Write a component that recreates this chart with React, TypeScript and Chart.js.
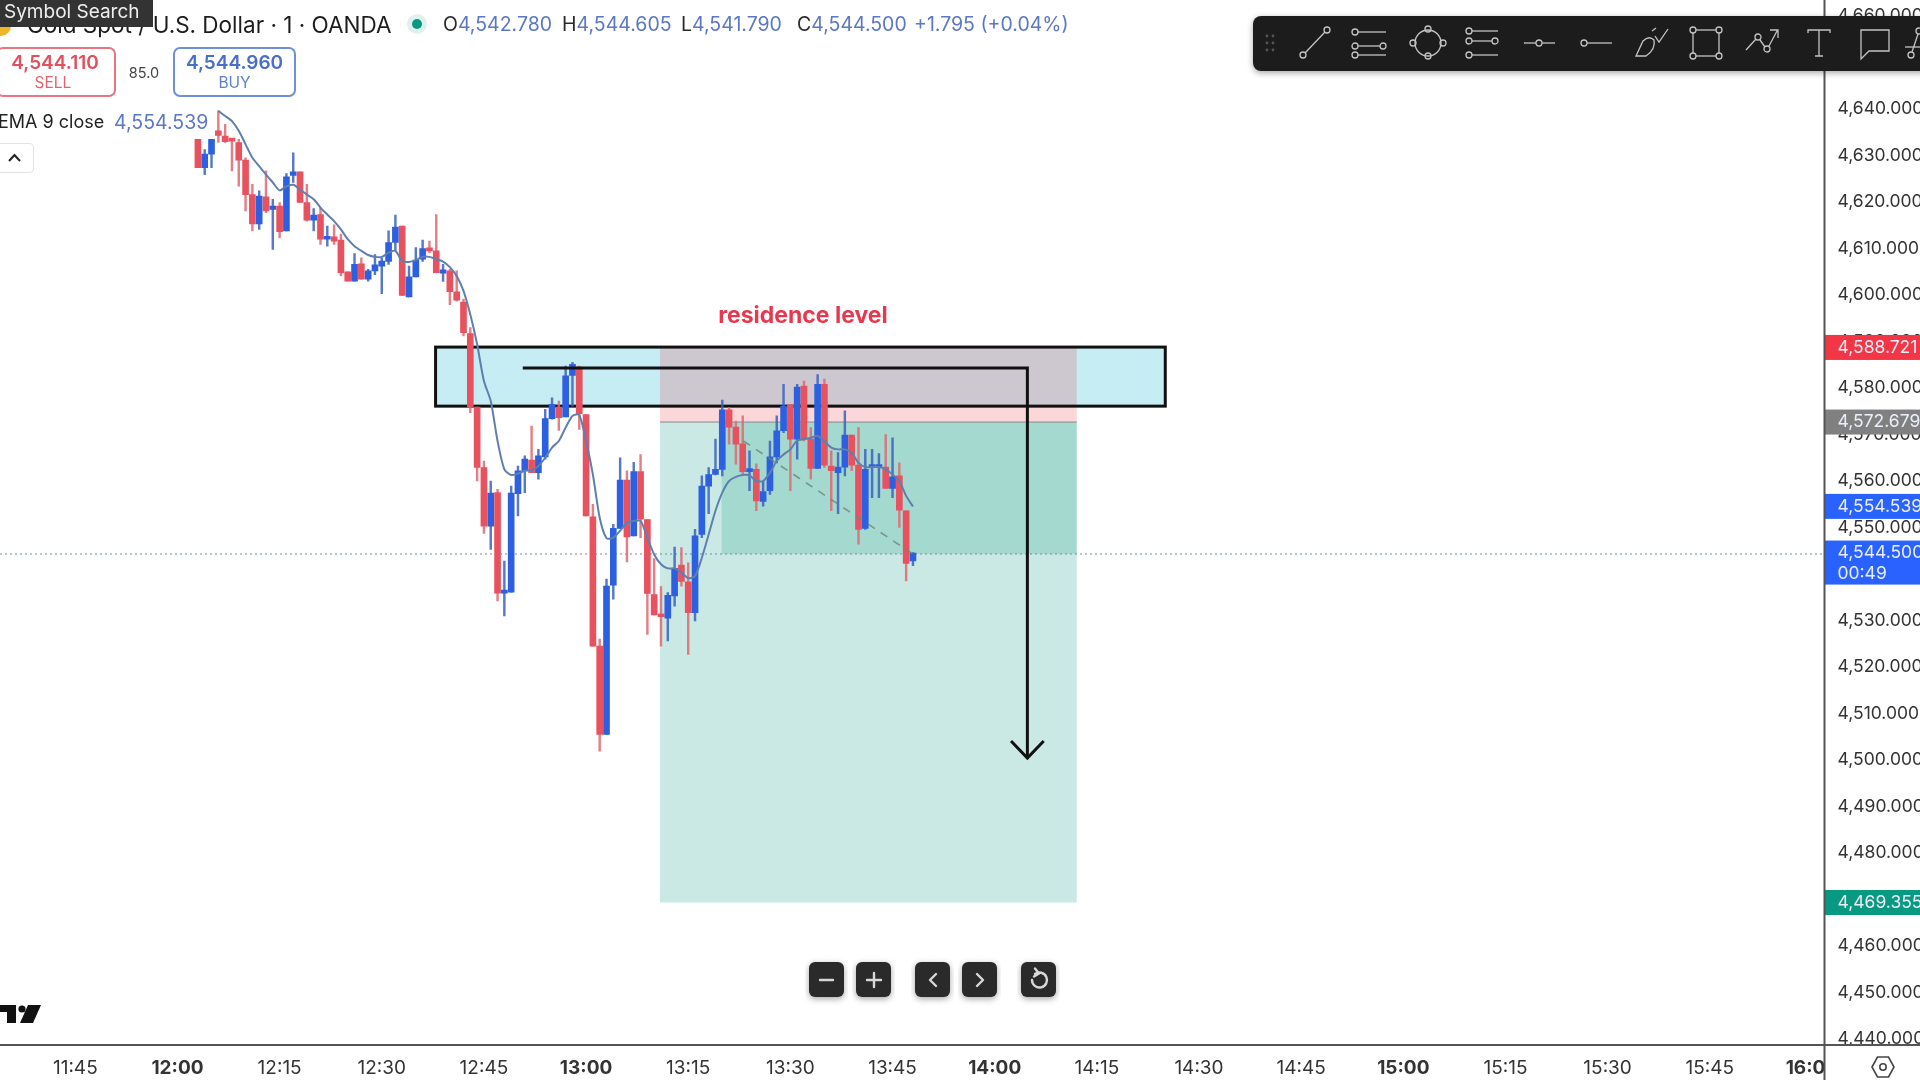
import React, { useEffect, useRef } from "react";
import { Chart, registerables } from "chart.js";

Chart.register(...registerables);

// minutes after 12:00 of the first candle
const firstCandleMinute = 3;
const opens = [4633.5,4627.4,4630.3,4635.3,4634.2,4633.3,4632.8,4629.0,4621.6,4615.3,4621.1,4618.4,4619.1,4613.8,4625.7,4626.5,4619.9,4616.1,4617.3,4612.0,4612.5,4611.8,4605.0,4603.0,4606.7,4603.4,4605.2,4606.2,4607.2,4611.3,4614.8,4599.6,4603.9,4607.7,4610.0,4609.5,4604.7,4605.2,4600.7,4598.5,4591.7,4575.9,4562.9,4550.3,4557.5,4535.9,4536.1,4557.3,4562.2,4564.5,4561.8,4565.2,4573.4,4575.9,4573.8,4582.7,4584.5,4574.3,4552.3,4524.5,4505.5,4537.6,4549.8,4560.2,4548.2,4562.0,4551.7,4535.6,4531.2,4530.5,4535.3,4541.9,4538.3,4531.7,4548.5,4558.9,4561.4,4562.5,4575.3,4571.6,4568.0,4562.0,4562.5,4555.6,4557.9,4565.2,4570.8,4576.4,4569.0,4580.4,4569.0,4562.7,4580.8,4563.2,4561.8,4563.0,4569.9,4563.4,4549.8,4562.9,4562.9,4563.0,4558.4,4561.1,4553.6,4542.8];
const highs = [4633.5,4631.3,4633.5,4639.6,4636.7,4633.3,4633.5,4629.5,4623.8,4622.4,4626.7,4620.6,4619.9,4626.1,4630.6,4626.5,4623.8,4618.6,4618.8,4614.8,4615.1,4613.1,4605.0,4608.9,4608.0,4605.5,4608.7,4608.0,4613.8,4617.2,4614.8,4606.2,4610.2,4611.8,4611.6,4617.3,4606.6,4605.5,4605.2,4599.1,4593.0,4575.9,4564.3,4560.0,4558.2,4542.8,4558.9,4563.2,4565.4,4571.8,4566.8,4575.4,4577.9,4577.2,4584.7,4585.5,4584.7,4574.3,4555.0,4526.0,4538.9,4550.7,4565.0,4562.2,4564.0,4565.7,4551.7,4543.3,4537.3,4536.0,4545.8,4545.7,4542.4,4549.6,4561.1,4562.9,4569.0,4577.4,4575.8,4572.9,4574.0,4566.5,4563.7,4560.0,4568.6,4574.0,4580.8,4576.5,4580.8,4581.5,4571.5,4582.9,4581.9,4566.5,4566.1,4575.1,4569.9,4571.5,4566.8,4566.8,4565.9,4570.0,4569.3,4563.9,4553.6,4544.6];
const lows = [4627.4,4625.9,4627.4,4632.8,4632.8,4626.7,4623.4,4618.1,4613.8,4614.1,4617.7,4609.8,4612.3,4613.8,4624.2,4619.9,4615.9,4613.8,4610.9,4610.5,4610.9,4604.1,4603.0,4603.0,4603.4,4603.0,4604.4,4600.3,4606.6,4609.5,4599.9,4599.6,4603.9,4607.2,4609.1,4604.8,4602.9,4597.9,4598.7,4591.2,4574.7,4560.0,4548.7,4545.3,4534.2,4531.0,4536.1,4552.5,4557.5,4561.8,4560.4,4564.7,4573.3,4570.9,4573.8,4576.1,4571.1,4552.5,4524.5,4501.9,4505.5,4534.6,4549.8,4542.6,4548.2,4547.8,4527.0,4531.2,4524.5,4525.6,4533.1,4537.4,4522.7,4529.9,4547.8,4553.0,4561.3,4561.1,4567.9,4563.6,4561.4,4557.9,4553.6,4554.6,4557.1,4563.9,4570.4,4557.9,4564.7,4568.6,4560.4,4562.7,4562.9,4553.6,4553.0,4561.1,4562.2,4546.4,4549.6,4556.4,4556.4,4558.4,4556.4,4550.0,4538.5,4541.8];
const closes = [4627.4,4630.3,4633.5,4634.3,4633.0,4633.1,4629.0,4621.6,4615.3,4621.3,4618.1,4619.1,4613.6,4625.4,4626.5,4619.9,4616.1,4617.2,4612.0,4612.6,4611.6,4604.8,4603.0,4606.6,4603.4,4605.2,4606.5,4607.3,4611.3,4614.6,4599.9,4603.9,4607.5,4610.0,4609.5,4604.8,4605.4,4600.7,4598.9,4591.9,4575.9,4562.9,4550.3,4557.4,4535.9,4536.2,4557.4,4562.2,4564.7,4561.8,4565.4,4573.4,4576.5,4573.6,4582.6,4585.1,4574.5,4552.5,4524.5,4505.5,4537.4,4549.8,4560.2,4548.0,4562.0,4551.8,4535.8,4531.2,4530.8,4535.4,4541.2,4538.4,4531.7,4548.2,4558.9,4561.4,4562.5,4575.3,4571.6,4567.9,4562.0,4562.3,4555.7,4557.7,4565.2,4570.8,4576.1,4569.0,4580.2,4569.0,4562.7,4580.8,4563.4,4562.2,4563.0,4569.9,4563.4,4549.6,4562.5,4563.0,4563.0,4558.4,4560.9,4553.7,4542.3,4544.5];

const emaStartMinute = 6;
const emaValues = [4639.6,4638.5,4637.4,4635.3,4632.4,4629.5,4627.7,4625.9,4624.2,4622.5,4623.4,4623.7,4622.7,4621.6,4620.6,4618.8,4617.3,4615.9,4614.1,4612.0,4610.5,4609.5,4608.6,4608.2,4608.2,4609.1,4609.5,4607.3,4607.1,4607.5,4608.2,4608.2,4607.7,4607.2,4606.0,4604.1,4600.9,4595.8,4589.4,4581.5,4577.2,4568.6,4562.5,4561.3,4561.6,4562.2,4562.3,4563.2,4565.0,4567.2,4568.6,4571.5,4574.0,4574.2,4568.6,4561.4,4552.1,4547.7,4547.8,4549.3,4551.0,4551.4,4551.4,4547.8,4544.2,4542.1,4541.2,4541.2,4540.3,4539.1,4539.6,4543.5,4548.5,4553.6,4557.5,4560.0,4560.9,4561.3,4561.2,4560.0,4560.0,4561.8,4564.3,4565.7,4566.8,4568.7,4569.0,4569.3,4569.7,4568.5,4567.2,4566.8,4566.8,4566.1,4563.9,4563.0,4563.0,4563.0,4562.5,4561.4,4560.0,4556.8,4554.5];

const xTickMinutes = [-15,0,15,30,45,60,75,90,105,120,135,150,165,180,195,210,225,240];
const xTickLabels = ["11:45","12:00","12:15","12:30","12:45","13:00","13:15","13:30","13:45","14:00","14:15","14:30","14:45","15:00","15:15","15:30","15:45","16:00"];
const xMin = -26.06;
const xMax = 241.85;
const yMin = 4438.705;
const yMax = 4663.445;

const stopPrice = 4588.721;
const entryPrice = 4572.679;
const targetPrice = 4469.355;
const emaPrice = 4554.539;
const lastPrice = 4544.5;
const dottedPrice = 4544.3;
const zoneStart = 70.85;
const zoneEnd = 132.05;
const innerStart = 79.9;
const boxStart = 37.9;
const boxEnd = 145.05;
const boxTop = 4588.8;
const boxBottom = 4576.1;

const trendMinutes = [83.1, 108];
const trendPrices = [4568.6, 4544.3];
const arrowMinutes = [50.7, 124.8, 124.8];
const arrowPrices = [4584.3, 4584.3, 4500.8];
const headMinutes = [122.4, 124.8, 127.2];
const headPrices = [4504.1, 4500.4, 4504.1];

const noteText = "residence level";
const noteMinute = 91.85;
const notePrice = 4595.5;

const RED = "#e8525f";
const BLUE = "#2c60e0";
const FONT = "Inter, 'Noto Sans', sans-serif";

const fmt = (v: number) =>
  v.toLocaleString("en-US", { minimumFractionDigits: 3, maximumFractionDigits: 3 });

const noPad = (s: any) => {
  s.paddingLeft = 0;
  s.paddingRight = 0;
  s.paddingTop = 0;
  s.paddingBottom = 0;
};

const overlays = {
  id: "overlays",
  beforeDatasetsDraw(chart: any) {
    const { ctx, scales } = chart;
    const X = scales.x, Y = scales.y;
    const rect = (x0: number, x1: number, p0: number, p1: number, c: string) => {
      ctx.fillStyle = c;
      ctx.fillRect(X.getPixelForValue(x0), Y.getPixelForValue(p0), X.getPixelForValue(x1) - X.getPixelForValue(x0), Y.getPixelForValue(p1) - Y.getPixelForValue(p0));
    };
    ctx.save();
    rect(boxStart, boxEnd, boxTop, boxBottom, "#c5edf3");
    rect(zoneStart, zoneEnd, stopPrice, entryPrice, "rgba(242,54,69,0.2)");
    rect(zoneStart, zoneEnd, entryPrice, targetPrice, "rgba(8,153,129,0.21)");
    rect(innerStart, zoneEnd, entryPrice, dottedPrice, "rgba(8,153,129,0.2)");
    ctx.strokeStyle = "#8a8a8a";
    ctx.lineWidth = 1;
    ctx.beginPath();
    ctx.moveTo(X.getPixelForValue(zoneStart), Y.getPixelForValue(entryPrice));
    ctx.lineTo(X.getPixelForValue(zoneEnd), Y.getPixelForValue(entryPrice));
    ctx.stroke();
    ctx.strokeStyle = "#111";
    ctx.lineWidth = 3;
    ctx.strokeRect(X.getPixelForValue(boxStart), Y.getPixelForValue(boxTop), X.getPixelForValue(boxEnd) - X.getPixelForValue(boxStart), Y.getPixelForValue(boxBottom) - Y.getPixelForValue(boxTop));
    ctx.restore();
  },
  afterDraw(chart: any) {
    const { ctx, scales, width, height, chartArea } = chart;
    const X = scales.x, Y = scales.y;
    const right = chartArea.right;
    ctx.save();
    // panel below the price scale hides the end of the last time label
    ctx.fillStyle = "#fff";
    ctx.fillRect(right, chartArea.bottom, width - right, height - chartArea.bottom);
    ctx.fillStyle = "#e6394f";
    ctx.font = `700 23px ${FONT}`;
    ctx.textAlign = "center";
    ctx.textBaseline = "middle";
    ctx.fillText(noteText, X.getPixelForValue(noteMinute), Y.getPixelForValue(notePrice));
    const badge = (p: number, c: string, h: number, lines: string[]) => {
      const y = Y.getPixelForValue(p);
      ctx.fillStyle = c;
      ctx.fillRect(right, y - 12.5, width - right, h);
      ctx.fillStyle = "#e9eef8";
      ctx.textAlign = "left";
      ctx.font = `400 17.5px ${FONT}`;
      lines.forEach((t, i) => ctx.fillText(t, right + 13, y + i * 21));
    };
    badge(stopPrice, "#f23645", 25, [fmt(stopPrice)]);
    badge(entryPrice, "#808080", 25, [fmt(entryPrice)]);
    badge(emaPrice, "#2962ff", 25, [fmt(emaPrice)]);
    badge(targetPrice, "#089981", 25, [fmt(targetPrice)]);
    badge(lastPrice, "#2962ff", 44, [fmt(lastPrice), "00:49"]);
    ctx.strokeStyle = "#555";
    ctx.lineWidth = 2;
    ctx.beginPath();
    ctx.moveTo(0, chartArea.bottom);
    ctx.lineTo(width, chartArea.bottom);
    ctx.moveTo(right, 0);
    ctx.lineTo(right, height);
    ctx.stroke();
    ctx.restore();
  },
};

const Icon = ({ cx, children }: any) => (
  <g transform={`translate(${cx} 43)`} fill="none" stroke="#c4c4c4" strokeWidth={1.3}>
    {children}
  </g>
);
const C = ({ x, y }: any) => <circle cx={x} cy={y} r={3} />;
const L = ({ a, b, c, d }: any) => <line x1={a} y1={b} x2={c} y2={d} />;

function Toolbar() {
  return (
    <svg width={1920} height={1080} style={{ position: "absolute", left: 0, top: 0, pointerEvents: "none" }}>
      <defs>
        <filter id="sh" x="-10%" y="-50%" width="120%" height="200%">
          <feDropShadow dx="0" dy="2" stdDeviation="3" floodOpacity="0.35" />
        </filter>
      </defs>
      <rect x={1253} y={16} width={720} height={55} rx={8} fill="#1e1e1e" filter="url(#sh)" />
      {[36, 43, 50].map((y) => (
        <g key={y} fill="#555">
          <circle cx={1267} cy={y} r={1.4} />
          <circle cx={1273} cy={y} r={1.4} />
        </g>
      ))}
      <Icon cx={1315}><C x={-12} y={12} /><C x={12} y={-13} /><L a={-10} b={10} c={10} d={-11} /></Icon>
      <Icon cx={1370}><C x={-15} y={-11} /><C x={-15} y={3} /><C x={-15} y={12} /><C x={13} y={3} /><L a={-12} b={-11} c={16} d={-11} /><L a={-12} b={3} c={10} d={3} /><L a={-12} b={12} c={16} d={12} /></Icon>
      <Icon cx={1428}><circle r={13} /><C x={0} y={-14} /><C x={0} y={13} /><C x={-15} y={0} /><C x={15} y={0} /></Icon>
      <Icon cx={1482}><C x={-13} y={-12} /><C x={13} y={-2} /><C x={-13} y={-2} /><C x={-13} y={12} /><L a={-10} b={-12} c={16} d={-12} /><L a={-10} b={-2} c={10} d={-2} /><L a={-10} b={12} c={16} d={12} /></Icon>
      <Icon cx={1539}><C x={0} y={0} /><L a={-15} b={0} c={-3} d={0} /><L a={3} b={0} c={16} d={0} /></Icon>
      <Icon cx={1596}><C x={-12} y={0} /><L a={-9} b={0} c={16} d={0} /></Icon>
      <Icon cx={1652}><path d="M-16 13 L-9 -2 Q-3 -8 2 -3 Q4 6 -6 13 Z" /><path d="M3 -7 L7 -1 L16 -14 M0 -12 L4 -15" /></Icon>
      <Icon cx={1706}><C x={-13} y={-13} /><C x={13} y={-13} /><C x={-13} y={13} /><C x={13} y={13} /><L a={-10} b={-13} c={10} d={-13} /><L a={-10} b={13} c={10} d={13} /><L a={-13} b={-10} c={-13} d={10} /><L a={13} b={-10} c={13} d={10} /></Icon>
      <Icon cx={1762}><C x={-4} y={-6} /><C x={5} y={6} /><path d="M-16 7 L-6 -4 M-2 -3 L3 4 M7 3 L15 -12 M8 -13 L16 -13 L16 -5" /></Icon>
      <Icon cx={1819}><path d="M-11 -10 V-13 H11 V-10 M0 -13 V13 M-4 13 H4" /></Icon>
      <Icon cx={1875}><path d="M-14 -13 H14 V8 H-6 L-14 16 Z" /></Icon>
      <Icon cx={1919}><C x={0} y={-12} /><C x={-8} y={12} /><L a={-1} b={-9} c={-7} d={9} /><L a={-14} b={4} c={8} d={4} /></Icon>
      {/* bottom buttons */}
      {[809, 856, 915, 962, 1021].map((x) => (
        <rect key={x} x={x} y={962} width={35} height={35} rx={6} fill="#2b2b2b" filter="url(#sh)" />
      ))}
      <g stroke="#d8d8d8" strokeWidth={2.4} fill="none" strokeLinecap="round" strokeLinejoin="round">
        <line x1={820} y1={980} x2={833} y2={980} />
        <path d="M867 980 H881 M874 973 V987" />
        <path d="M936 974 L930 980 L936 986" />
        <path d="M977 974 L983 980 L977 986" />
        <path d="M1035 974 A7.5 7.5 0 1 1 1032 980 M1035 968.5 L1039 973.5 L1034 976.5" />
      </g>
      {/* TradingView mark */}
      <g fill="#111">
        <path d="M0 1005 H16 V1023 H7 V1012 H0 Z" />
        <circle cx={22} cy={1009} r={3.6} />
        <path d="M28 1005 H41 L33 1023 H20 Z" />
      </g>
      {/* settings */}
      <g fill="none" stroke="#444" strokeWidth={1.6}>
        <path d="M1872 1067 L1877.5 1057 H1888.5 L1894 1067 L1888.5 1077 H1877.5 Z" />
        <circle cx={1883} cy={1067} r={3.2} />
      </g>
    </svg>
  );
}

const abs = (style: React.CSSProperties): React.CSSProperties => ({ position: "absolute", whiteSpace: "nowrap", fontFamily: FONT, ...style });

function Header() {
  const v = "#5b78c6";
  const k = "#2a2a2a";
  const ohlc = [["O", "4,542.780", 443], ["H", "4,544.605", 562], ["L", "4,541.790", 681], ["C", "4,544.500", 797]] as const;
  return (
    <>
      <div style={abs({ left: -9, top: 16, width: 20, height: 20, borderRadius: 10, background: "#f0b429" })} />
      <div style={abs({ left: 27, top: 11, fontSize: 22.5, lineHeight: "28px", color: "#1c1c1c" })}>Gold Spot / U.S. Dollar · 1 · OANDA</div>
      <div style={abs({ left: 0, top: 0, width: 153, height: 27, background: "#333", color: "#eee", fontSize: 19, lineHeight: "24px", paddingLeft: 4, boxSizing: "border-box" })}>Symbol Search</div>
      <div style={abs({ left: 407, top: 14, width: 20, height: 20, borderRadius: 10, background: "#dff1ee" })} />
      <div style={abs({ left: 412, top: 19, width: 10, height: 10, borderRadius: 5, background: "#089981" })} />
      {ohlc.map(([a, b, x]) => (
        <div key={a} style={abs({ left: x, top: 11, fontSize: 19.5, lineHeight: "26px", color: k })}>
          {a}<span style={{ color: v }}>{b}</span>
        </div>
      ))}
      <div style={abs({ left: 914, top: 11, fontSize: 19.5, lineHeight: "26px", color: v })}>+1.795 (+0.04%)</div>

      <div style={abs({ left: -4, top: 47, width: 120, height: 50, border: "2px solid #ea7480", borderRadius: 7, boxSizing: "border-box" })} />
      <div style={abs({ left: 0, width: 110, top: 51, textAlign: "center", fontSize: 19, fontWeight: 600, color: "#e2505e" })}>4,544.110</div>
      <div style={abs({ left: 0, width: 106, top: 73, textAlign: "center", fontSize: 15.5, color: "#e2626e" })}>SELL</div>
      <div style={abs({ left: 124, width: 40, top: 64, textAlign: "center", fontSize: 14.5, color: "#444" })}>85.0</div>
      <div style={abs({ left: 173, top: 47, width: 123, height: 50, border: "2px solid #6f8fd8", borderRadius: 7, boxSizing: "border-box" })} />
      <div style={abs({ left: 173, width: 123, top: 51, textAlign: "center", fontSize: 19, fontWeight: 600, color: "#4a6fc9" })}>4,544.960</div>
      <div style={abs({ left: 173, width: 123, top: 73, textAlign: "center", fontSize: 15.5, color: "#5f80cc" })}>BUY</div>

      <div style={abs({ left: -2, top: 109, fontSize: 18, lineHeight: "26px", color: "#222" })}>EMA 9 close</div>
      <div style={abs({ left: 114, top: 109, fontSize: 19.5, lineHeight: "26px", color: v })}>4,554.539</div>

      <div style={abs({ left: -6, top: 143, width: 40, height: 30, border: "1px solid #e3e3e3", borderRadius: 4, boxSizing: "border-box", background: "#fff" })} />
      <svg width={20} height={12} style={{ position: "absolute", left: 5, top: 152 }}>
        <path d="M4 9 L9.5 3 L15 9" fill="none" stroke="#222" strokeWidth={2} />
      </svg>
    </>
  );
}

export default function App() {
  const ref = useRef<HTMLCanvasElement>(null);
  useEffect(() => {
    document.body.style.margin = "0";
    document.body.style.overflow = "hidden";
    const mins = opens.map((_, i) => firstCandleMinute + i);
    const up = opens.map((o, i) => closes[i] >= o);
    const chart = new Chart(ref.current as HTMLCanvasElement, {
      type: "bar",
      plugins: [overlays],
      data: {
        datasets: [
          { type: "line", data: [{ x: xMin, y: dottedPrice }, { x: xMax, y: dottedPrice }], borderColor: "#6f8ea0", borderWidth: 1, borderDash: [2, 3], pointRadius: 0, order: 6 },
          { type: "bar", data: mins.map((x, i) => ({ x, y: [lows[i], highs[i]] })), backgroundColor: up.map((u) => (u ? "rgba(58,98,190,0.85)" : "rgba(224,104,114,0.85)")), barThickness: 1.8, grouped: false, order: 5 },
          { type: "bar", data: mins.map((x, i) => ({ x, y: [opens[i], closes[i]] })), backgroundColor: up.map((u) => (u ? BLUE : RED)), barThickness: 6, minBarLength: 3, grouped: false, order: 4 },
          { type: "line", data: trendMinutes.map((x, i) => ({ x, y: trendPrices[i] })), borderColor: "rgba(110,135,115,0.8)", borderWidth: 1.6, borderDash: [8, 7], pointRadius: 0, order: 3 },
          { type: "line", data: emaValues.map((y, i) => ({ x: emaStartMinute + i, y })), borderColor: "#5f7fae", borderWidth: 2, tension: 0.25, pointRadius: 0, order: 2 },
          { type: "line", data: arrowMinutes.map((x, i) => ({ x, y: arrowPrices[i] })), borderColor: "#111", borderWidth: 3, pointRadius: 0, order: 1 },
          { type: "line", data: headMinutes.map((x, i) => ({ x, y: headPrices[i] })), borderColor: "#111", borderWidth: 3, pointRadius: 0, order: 1 },
        ] as any,
      },
      options: {
        animation: false,
        responsive: false,
        devicePixelRatio: 1,
        layout: { padding: 0 },
        plugins: { legend: { display: false }, tooltip: { enabled: false } },
        scales: {
          x: {
            type: "linear",
            offset: false,
            min: xMin,
            max: xMax,
            afterFit: (s: any) => { s.height = 35; noPad(s); },
            afterBuildTicks: (s: any) => { s.ticks = xTickMinutes.map((value) => ({ value })); },
            grid: { display: false },
            border: { display: false },
            ticks: {
              autoSkip: false,
              maxRotation: 0,
              padding: 4,
              color: "#333",
              font: (c: any) => {
                const label = xTickLabels[xTickMinutes.indexOf(c.tick?.value)] || "";
                return { family: FONT, size: 19, weight: label.endsWith(":00") ? 700 : 400 };
              },
              callback: (v: any) => xTickLabels[xTickMinutes.indexOf(v)] ?? "",
            },
          },
          y: {
            position: "right",
            min: yMin,
            max: yMax,
            afterFit: (s: any) => { s.width = 1920 - 1824.5; noPad(s); },
            grid: { display: false, drawTicks: false },
            border: { display: false },
            ticks: {
              stepSize: 10,
              includeBounds: false,
              autoSkip: false,
              padding: 13,
              color: "#333",
              font: { family: FONT, size: 17.5 },
              callback: (v: any) => fmt(Number(v)),
            },
          },
        },
      } as any,
    });
    return () => chart.destroy();
  }, []);
  return (
    <div style={{ position: "fixed", left: 0, top: 0, width: 1920, height: 1080, overflow: "hidden", background: "#fff", filter: "blur(0.5px)" }}>
      <canvas ref={ref} width={1920} height={1080} style={{ position: "absolute", left: 0, top: 0, width: 1920, height: 1080 }} />
      <Header />
      <Toolbar />
    </div>
  );
}
